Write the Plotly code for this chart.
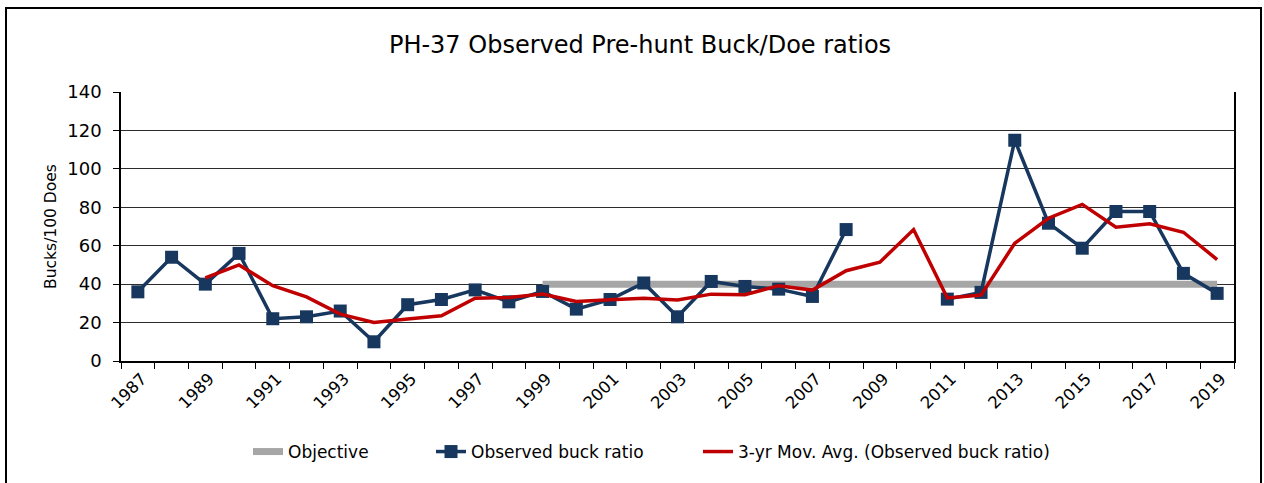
import plotly.graph_objects as go

# ---- data ----
years = list(range(1987, 2020))
observed_buck_ratio = [36, 54, 40, 56, 22, 23, 26, 10, 29.3, 32, 37, 30.8, 36.2, 27, 32, 40.6, 23, 41.4,
                       38.8, 37.4, 33.6, 68.4, None, None, 32.2, 35.7, 114.9, 71.7, 58.7, 77.8, 77.8, 45.6, 35.2]
moving_avg = [None, None, 43.2, 50, 39.2, 33.4, 24.4, 20, 21.8, 23.5, 32.7, 33.1, 34.8, 31, 31.9, 32.7,
              31.7, 34.8, 34.5, 39.2, 36.9, 47, 51.4, 68.4, 32.8, 34.3, 61.3, 74.3, 81.5, 69.6, 71.4, 67, 52.8]
objective_years = [1999, 2019]
objective_values = [40, 40]

title_text = "PH-37 Observed Pre-hunt Buck/Doe ratios"
y_title = "Bucks/100 Does"
label_years = years[::2]

FONT = "DejaVu Sans"
W, H = 1264, 483

fig = go.Figure()
fig.add_trace(go.Scatter(x=objective_years, y=objective_values, mode="lines", name="Objective",
                         line=dict(color="#a6a6a6", width=7), legend="legend"))
fig.add_trace(go.Scatter(x=years, y=observed_buck_ratio, mode="lines+markers", name="Observed buck ratio",
                         line=dict(color="#17375e", width=3.5),
                         marker=dict(symbol="square", size=13, color="#17375e"), legend="legend2"))
fig.add_trace(go.Scatter(x=years, y=moving_avg, mode="lines",
                         name="3-yr Mov. Avg. (Observed buck ratio)",
                         line=dict(color="#c00000", width=3.5), legend="legend3"))

leg_common = dict(orientation="h", xref="container", yref="container", xanchor="left",
                  yanchor="middle", y=(H - 452) / H, font=dict(size=17, family=FONT, color="black"),
                  bgcolor="rgba(0,0,0,0)")

fig.update_layout(
    width=W, height=H,
    paper_bgcolor="white", plot_bgcolor="white",
    margin=dict(l=121, r=30, t=92, b=122),
    font=dict(family=FONT, color="black"),
    title=dict(text=title_text, font=dict(size=24, family=FONT, color="black"),
               x=640 / W, xref="container", xanchor="center",
               y=(H - 45) / H, yref="container", yanchor="middle"),
    showlegend=True,
    legend=dict(x=248 / W, **leg_common),
    legend2=dict(x=431 / W, **leg_common),
    legend3=dict(x=698 / W, **leg_common),
    shapes=[dict(type="rect", xref="paper", yref="paper",
                 x0=(6 - 121) / 1113, x1=(1261 - 121) / 1113,
                 y0=-0.6, y1=(361 - 8) / 269,
                 line=dict(color="black", width=2), fillcolor="rgba(0,0,0,0)", layer="below")],
)

fig.update_xaxes(
    range=[years[0] - 0.5, years[-1] + 0.5],
    tickmode="array", tickvals=label_years, ticktext=[str(y) for y in label_years],
    tickangle=-45, ticks="", ticklen=0, ticklabelshift=4,
    tickfont=dict(size=16.5, family=FONT, color="black"),
    minor=dict(tick0=years[0] - 0.5, dtick=1, ticks="outside", ticklen=6, tickcolor="black",
               showgrid=False),
    showgrid=False, zeroline=False,
    showline=True, linecolor="black", linewidth=1.5, mirror=False,
)
fig.update_yaxes(
    range=[0, 140], dtick=20, tick0=0,
    ticks="outside", ticklen=6, tickcolor="black",
    tickfont=dict(size=18, family=FONT, color="black"),
    ticklabelstandoff=8,
    showgrid=True, gridcolor="#2b2b2b", gridwidth=1,
    zeroline=False,
    showline=True, linecolor="black", linewidth=1.5, mirror=True,
    title=dict(text=y_title, font=dict(size=15.5, family=FONT, color="black"), standoff=7),
)

fig.write_html("out.html", config={"displayModeBar": False},
               post_script="document.body.style.margin='0';document.body.style.overflow='hidden';")
